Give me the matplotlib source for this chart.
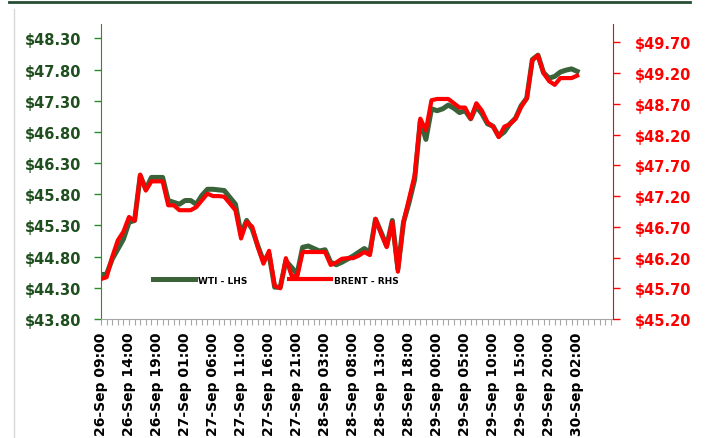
import numpy as np
import matplotlib
matplotlib.use('Agg')
import matplotlib.pyplot as plt
from matplotlib.lines import Line2D

plt.rcParams['font.family'] = ['DejaVu Sans']
plt.rcParams['font.weight'] = 'bold'

# hourly price data (one category per trading hour)
wti = [44.51, 44.52, 44.76, 44.92, 45.08, 45.35, 45.38, 46.10, 45.88, 46.07,
       46.07, 46.07, 45.70, 45.67, 45.64, 45.70, 45.70, 45.64, 45.78, 45.88,
       45.88, 45.87, 45.86, 45.75, 45.64, 45.16, 45.38, 45.24, 44.97, 44.73,
       44.84, 44.31, 44.31, 44.73, 44.63, 44.52, 44.95, 44.97, 44.93, 44.89,
       44.91, 44.71, 44.67, 44.71, 44.76, 44.81, 44.87, 44.93, 44.87, 45.40,
       45.19, 44.97, 45.38, 44.60, 45.35, 45.67, 46.04, 46.98, 46.68, 47.17,
       47.14, 47.17, 47.23, 47.18, 47.11, 47.14, 47.01, 47.21, 47.09, 46.93,
       46.89, 46.73, 46.80, 46.93, 47.02, 47.22, 47.34, 47.96, 48.03, 47.75,
       47.66, 47.69, 47.76, 47.79, 47.81, 47.77]

brent = [45.85, 45.88, 46.21, 46.48, 46.62, 46.86, 46.80, 47.55, 47.29, 47.44,
         47.44, 47.44, 47.05, 47.05, 46.97, 46.97, 46.97, 47.02, 47.13, 47.24,
         47.20, 47.20, 47.19, 47.08, 46.97, 46.51, 46.78, 46.70, 46.37, 46.10,
         46.31, 45.74, 45.70, 46.19, 45.91, 45.88, 46.29, 46.29, 46.29, 46.29,
         46.29, 46.08, 46.12, 46.18, 46.19, 46.19, 46.23, 46.29, 46.24, 46.83,
         46.59, 46.37, 46.78, 45.97, 46.78, 47.16, 47.54, 48.46, 48.27, 48.76,
         48.78, 48.78, 48.78, 48.71, 48.64, 48.64, 48.46, 48.71, 48.59, 48.40,
         48.33, 48.16, 48.33, 48.37, 48.46, 48.65, 48.79, 49.41, 49.49, 49.20,
         49.07, 49.01, 49.12, 49.12, 49.12, 49.16]

tick_labels = ['26-Sep 09:00', '26-Sep 14:00', '26-Sep 19:00', '27-Sep 01:00',
               '27-Sep 06:00', '27-Sep 11:00', '27-Sep 16:00', '27-Sep 21:00',
               '28-Sep 03:00', '28-Sep 08:00', '28-Sep 13:00', '28-Sep 18:00',
               '29-Sep 00:00', '29-Sep 05:00', '29-Sep 10:00', '29-Sep 15:00',
               '29-Sep 20:00', '30-Sep 02:00']

wti_ticks = [43.8, 44.3, 44.8, 45.3, 45.8, 46.3, 46.8, 47.3, 47.8, 48.3]
brent_ticks = [45.2, 45.7, 46.2, 46.7, 47.2, 47.7, 48.2, 48.7, 49.2, 49.7]

W, H = 705, 439
fig = plt.figure(figsize=(W / 100, H / 100), dpi=100)
ax = fig.add_axes([101 / W, 1 - 320 / H, 512 / W, 295 / H])
ax2 = ax.twinx()

x = np.arange(len(wti))
l1, = ax.plot(x, wti, color='#3a633a', lw=3.6, label='WTI - LHS')
l2, = ax2.plot(x, brent, color='#ff0000', lw=3.0, label='BRENT - RHS')

ax.set_xlim(0, 91.4)
ax.set_ylim(43.8, 48.53)
ax2.set_ylim(45.2, 50.0)

# left axis (WTI)
ax.set_yticks(wti_ticks)
ax.set_yticklabels(['$%.2f' % v for v in wti_ticks])
ax.tick_params(axis='y', direction='out', length=5, width=1, color='#2a8c2a',
               labelcolor='#1f4f1f', labelsize=10.5, pad=9)

# right axis (Brent)
ax2.set_yticks(brent_ticks)
ax2.set_yticklabels(['$%.2f' % v for v in brent_ticks])
ax2.tick_params(axis='y', direction='out', length=5, width=1, color='#ff0000',
                labelcolor='#ff0000', labelsize=10.5, pad=11)

# category axis
ax.set_xticks(np.arange(0, len(wti), 5))
ax.set_xticklabels(tick_labels, rotation=90, fontsize=10, color='black')
ax.set_xticks(np.arange(0, 92), minor=True)
ax.tick_params(axis='x', which='both', direction='out', length=4, width=0.8,
               color='#a6a6a6', pad=5)

for s in ['top', 'right']:
    ax.spines[s].set_visible(False)
for s in ['top', 'left', 'bottom']:
    ax2.spines[s].set_visible(False)
ax.spines['left'].set_color('#2a8c2a')
ax.spines['bottom'].set_color('#a6a6a6')
ax2.spines['right'].set_color('#ff0000')

ax2.legend([l1, l2], ['WTI - LHS', 'BRENT - RHS'], loc='center',
           bbox_to_anchor=(0.342, 0.132), ncol=2, frameon=False,
           prop={'weight': 'bold', 'size': 6.5}, handlelength=4.6,
           handletextpad=0.4, columnspacing=4.6)

# header rule and faint frame edge
fig.add_artist(Line2D([9 / W, 690 / W], [1 - 2.5 / H, 1 - 2.5 / H],
                      color='#264d35', lw=2))
fig.add_artist(Line2D([14 / W, 14 / W], [0, 1 - 10 / H],
                      color='#d9d9d9', lw=1))

fig.savefig('out.png', dpi=100)
